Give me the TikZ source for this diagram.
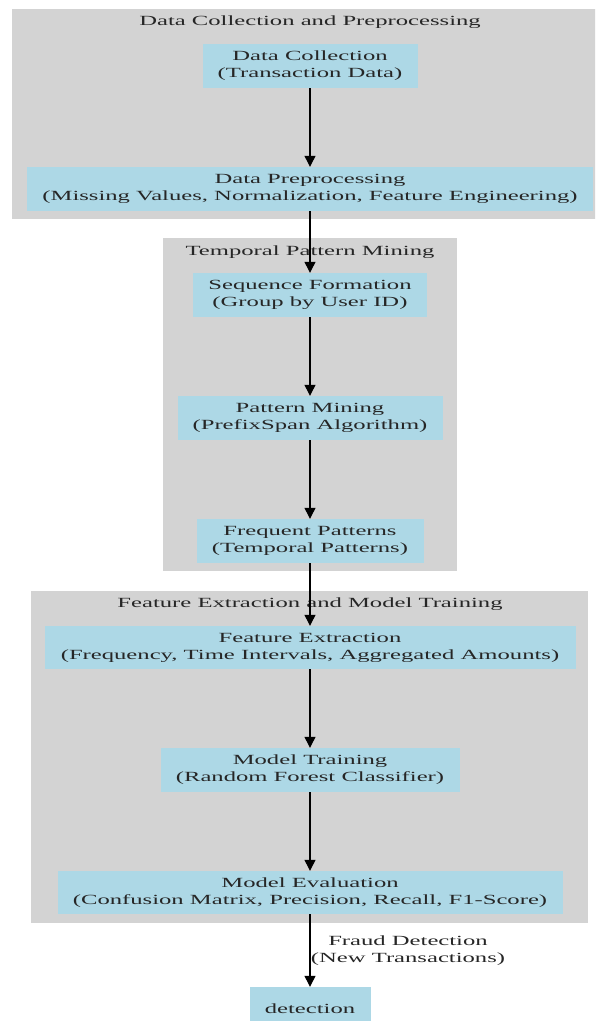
\documentclass[tikz,border=0pt]{standalone}
\usepackage{fontspec}
\setmainfont{Liberation Serif}[FakeStretch=1.76]
\usetikzlibrary{arrows.meta}
\definecolor{nodeblue}{HTML}{ADD8E6}
\definecolor{clustergray}{HTML}{D3D3D3}
\begin{document}
\begin{tikzpicture}[x=1pt,y=-1pt,
  txt/.style={font=\fontsize{14}{17}\selectfont, text=black!85, align=center},
  box/.style={txt, fill=nodeblue, inner sep=0pt, minimum height=44pt},
  cluster/.style={fill=clustergray, draw=none},
  conn/.style={-{Triangle[length=11pt,width=11pt]}, line width=1.2pt, black}]
\useasboundingbox (0,0) rectangle (595,1021);
\clip (0,0) rectangle (595,1021);
% clusters
\path[cluster] (12,9) rectangle (600,219);
\path[cluster] (163,238) rectangle (457,571);
\path[cluster] (31,591) rectangle (588,923);
% titles
\node[txt] (t1) at (310,22) {Data Collection and Preprocessing};
\node[txt] (t2) at (310,252) {Temporal Pattern Mining};
\node[txt] (t3) at (310,604) {Feature Extraction and Model Training};
% nodes
\node[box, minimum width=215pt] (dc) at (310,66) {Data Collection\\(Transaction Data)};
\node[box, minimum width=566pt] (dp) at (310,189) {Data Preprocessing\\(Missing Values, Normalization, Feature Engineering)};
\node[box, minimum width=234pt] (sf) at (310,295) {Sequence Formation\\(Group by User ID)};
\node[box, minimum width=265pt] (pm) at (310,418) {Pattern Mining\\(PrefixSpan Algorithm)};
\node[box, minimum width=227pt] (fp) at (310,541) {Frequent Patterns\\(Temporal Patterns)};
\node[box, minimum width=531pt, minimum height=43pt] (fe) at (310,647.5) {Feature Extraction\\(Frequency, Time Intervals, Aggregated Amounts)};
\node[box, minimum width=299pt] (mt) at (310,770) {Model Training\\(Random Forest Classifier)};
\node[box, minimum width=505pt, minimum height=43pt] (me) at (310,892.5) {Model Evaluation\\(Confusion Matrix, Precision, Recall, F1-Score)};
\node[box, minimum width=121pt] (det) at (310,1009) {detection};
% connectors
\draw[conn] (dc) -- (dp);
\draw[conn] (dp) -- (sf);
\draw[conn] (sf) -- (pm);
\draw[conn] (pm) -- (fp);
\draw[conn] (fp) -- (fe);
\draw[conn] (fe) -- (mt);
\draw[conn] (mt) -- (me);
\draw[conn] (me) -- (det) node[txt, midway, xshift=98pt] (lbl) {Fraud Detection\\(New Transactions)};
\end{tikzpicture}
\end{document}
